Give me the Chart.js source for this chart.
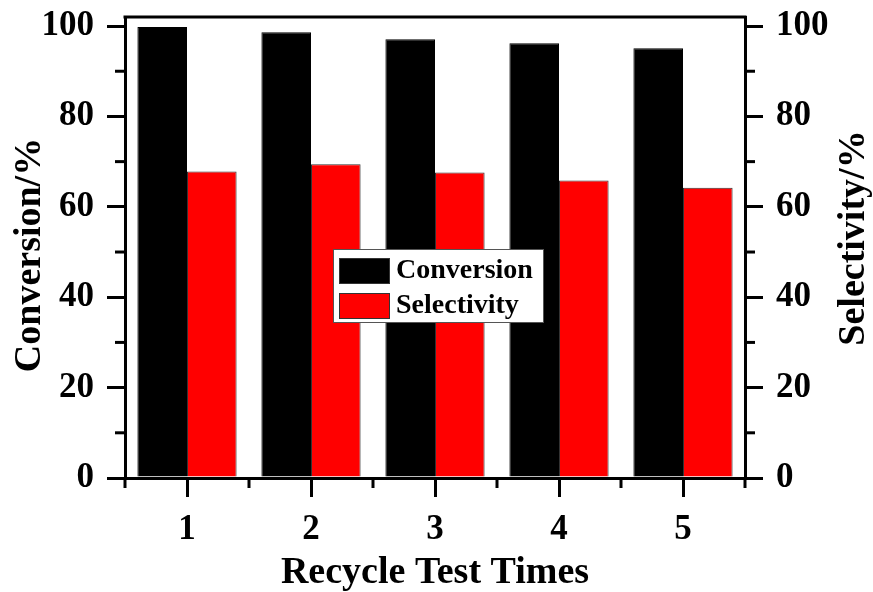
<!DOCTYPE html>
<html>
<head>
<meta charset="utf-8">
<script src="https://cdn.jsdelivr.net/npm/chart.js@4.4.0/dist/chart.umd.min.js"></script>
<style>
html, body { margin: 0; padding: 0; background: #fff; }
</style>
</head>
<body>
<canvas id="chart" width="873" height="592"></canvas>
<script>
// data
const cycles = ['1', '2', '3', '4', '5'];
const conversion = [99.8, 98.6, 97.1, 96.2, 95.1];
const selectivity = [67.8, 69.4, 67.6, 65.8, 64.2];
const yMajorTicks = [0, 20, 40, 60, 80, 100];
const yMinorTicks = [10, 30, 50, 70, 90];

const FONT = "'Liberation Serif', 'Times New Roman', serif";

// minor ticks, top frame line, axis titles and the legend box
const extras = {
    id: 'extras',
    afterDraw(chart) {
        const ctx = chart.ctx;
        const area = chart.chartArea;
        const x = chart.scales.x;
        const y = chart.scales.y;
        const y1 = chart.scales.y1;
        ctx.save();
        ctx.strokeStyle = '#000';
        ctx.lineWidth = 3;

        // top frame
        ctx.beginPath();
        ctx.moveTo(area.left - 1.5, area.top);
        ctx.lineTo(area.right + 1.5, area.top);
        ctx.stroke();

        // minor y ticks on both sides
        yMinorTicks.forEach(v => {
            const py = y.getPixelForValue(v);
            ctx.beginPath();
            ctx.moveTo(area.left, py);
            ctx.lineTo(area.left - 10, py);
            ctx.stroke();
            const py1 = y1.getPixelForValue(v);
            ctx.beginPath();
            ctx.moveTo(area.right, py1);
            ctx.lineTo(area.right + 10, py1);
            ctx.stroke();
        });

        // minor x ticks on category boundaries
        const bounds = [area.left];
        for (let i = 0; i < cycles.length - 1; i++) {
            bounds.push((x.getPixelForTick(i) + x.getPixelForTick(i + 1)) / 2);
        }
        bounds.push(area.right);
        bounds.forEach(px => {
            ctx.beginPath();
            ctx.moveTo(px, area.bottom);
            ctx.lineTo(px, area.bottom + 10);
            ctx.stroke();
        });

        // axis titles
        ctx.fillStyle = '#000';
        ctx.font = 'bold 38px ' + FONT;
        ctx.textAlign = 'center';
        ctx.textBaseline = 'middle';
        ctx.fillText('Recycle Test Times', (area.left + area.right) / 2, 573);

        ctx.save();
        ctx.translate(30, 255);
        ctx.rotate(-Math.PI / 2);
        ctx.fillText('Conversion/%', 0, 0);
        ctx.restore();

        ctx.save();
        ctx.translate(854, 238);
        ctx.rotate(-Math.PI / 2);
        ctx.fillText('Selectivity/%', 0, 0);
        ctx.restore();

        // legend
        const lx = 333, ly = 249, lw = 210, lh = 73;
        ctx.fillStyle = '#fff';
        ctx.fillRect(lx, ly, lw, lh);
        ctx.lineWidth = 1;
        ctx.strokeStyle = '#555';
        ctx.strokeRect(lx + 0.5, ly + 0.5, lw, lh);

        const items = [
            { label: chart.data.datasets[0].label, color: '#000', top: 258 },
            { label: chart.data.datasets[1].label, color: '#ff0000', top: 293 }
        ];
        ctx.font = 'bold 28px ' + FONT;
        ctx.textAlign = 'left';
        items.forEach(it => {
            ctx.fillStyle = it.color;
            ctx.fillRect(339, it.top, 50, 25);
            ctx.strokeStyle = '#333';
            ctx.strokeRect(339.5, it.top + 0.5, 50, 25);
            ctx.fillStyle = '#000';
            ctx.fillText(it.label, 396, it.top + 13);
        });
        ctx.restore();
    }
};

function fixTicks(scale) {
    scale.ticks = yMajorTicks.map(v => ({ value: v }));
}

new Chart(document.getElementById('chart'), {
    type: 'bar',
    data: {
        labels: cycles,
        datasets: [{
            label: 'Conversion',
            data: conversion,
            backgroundColor: '#000',
            borderColor: '#000',
            borderWidth: 1,
            yAxisID: 'y',
            categoryPercentage: 0.8,
            barPercentage: 1.0
        }, {
            label: 'Selectivity',
            data: selectivity,
            backgroundColor: '#ff0000',
            borderColor: '#333',
            borderWidth: 1,
            yAxisID: 'y1',
            categoryPercentage: 0.8,
            barPercentage: 1.0
        }]
    },
    options: {
        responsive: false,
        animation: false,
        layout: { padding: { top: 17, left: 0, right: 0, bottom: 0 } },
        plugins: {
            legend: { display: false },
            tooltip: { enabled: false }
        },
        scales: {
            x: {
                grid: { offset: false, drawOnChartArea: false, tickLength: 19, lineWidth: 3, color: '#000' },
                border: { color: '#000', width: 3 },
                ticks: {
                    color: '#000',
                    padding: 12,
                    font: { family: FONT, size: 35, weight: 'bold' }
                },
                afterFit(scale) {
                    scale.height = 114;
                    scale.paddingLeft = 0;
                    scale.paddingRight = 0;
                }
            },
            y: {
                position: 'left',
                min: 0,
                max: 102,
                afterBuildTicks: fixTicks,
                grid: { drawOnChartArea: false, tickLength: 18, lineWidth: 3, color: '#000' },
                border: { color: '#000', width: 3 },
                ticks: {
                    color: '#000',
                    padding: 13,
                    font: { family: FONT, size: 35, weight: 'bold' }
                },
                afterFit(scale) {
                    scale.width = 125;
                    scale.paddingTop = 0;
                    scale.paddingBottom = 0;
                }
            },
            y1: {
                position: 'right',
                min: 0,
                max: 102,
                afterBuildTicks: fixTicks,
                grid: { drawOnChartArea: false, tickLength: 18, lineWidth: 3, color: '#000' },
                border: { color: '#000', width: 3 },
                ticks: {
                    color: '#000',
                    padding: 13,
                    font: { family: FONT, size: 35, weight: 'bold' }
                },
                afterFit(scale) {
                    scale.width = 128;
                    scale.paddingTop = 0;
                    scale.paddingBottom = 0;
                }
            }
        }
    },
    plugins: [extras]
});
</script>
</body>
</html>
